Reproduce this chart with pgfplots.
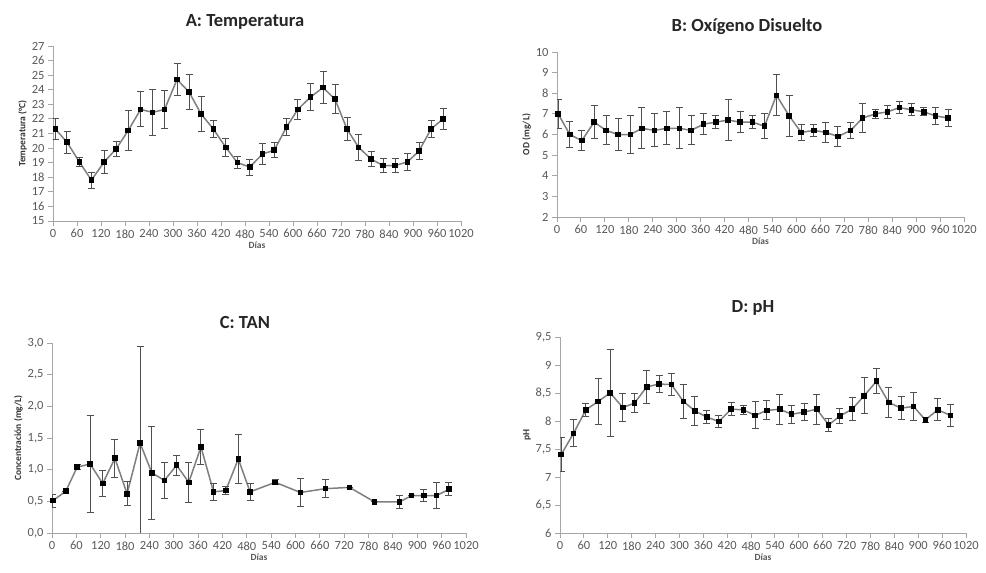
\documentclass[border=0pt]{standalone}
\usepackage{fontspec}
\setmainfont{Carlito}
\usepackage{pgfplots}
\usepackage{pgfplotstable}
\pgfplotsset{compat=1.18}

\definecolor{axgray}{HTML}{A6A6A6}
\definecolor{lblgray}{HTML}{595959}
\definecolor{linegray}{HTML}{7F7F7F}
\definecolor{errgray}{HTML}{505050}

\pgfplotstableread{
x y e
6 21.3 0.7
35 20.4 0.75
66 19.05 0.3
96 17.8 0.55
128 19.05 0.8
158 19.95 0.5
188 21.2 1.4
219 22.65 1.2
249 22.45 1.6
279 22.65 1.3
310 24.7 1.1
340 23.85 1.2
370 22.35 1.2
401 21.3 0.6
432 20.05 0.6
461 19.0 0.4
492 18.7 0.55
524 19.6 0.7
553 19.85 0.5
584 21.45 0.6
612 22.65 0.7
644 23.5 0.9
675 24.15 1.1
705 23.35 1.0
735 21.3 0.8
764 20.05 0.9
795 19.25 0.5
825 18.8 0.5
855 18.8 0.5
886 19.05 0.6
915 19.8 0.6
945 21.3 0.6
975 22.0 0.7
}\tempA

\pgfplotstableread{
x y e
3 7.0 0.7
32 6.0 0.62
62 5.7 0.5
93 6.6 0.8
123 6.2 0.7
153 6.0 0.8
184 6.0 0.9
213 6.3 1.0
244 6.2 0.8
275 6.3 0.8
307 6.3 1.0
336 6.2 0.7
367 6.5 0.5
398 6.6 0.3
429 6.7 1.0
459 6.6 0.5
490 6.6 0.3
520 6.4 0.6
550 7.9 1.0
582 6.9 1.0
612 6.1 0.4
644 6.2 0.3
674 6.1 0.5
704 5.9 0.5
736 6.2 0.4
766 6.8 0.7
798 7.0 0.2
828 7.1 0.3
858 7.3 0.3
888 7.2 0.3
919 7.1 0.2
949 6.9 0.4
980 6.8 0.4
}\tempB

\pgfplotstableread{
x y e
2 0.51 0.10
34 0.66 0.0
62 1.04 0.04
94 1.09 0.77
125 0.78 0.21
155 1.18 0.30
185 0.62 0.19
217 1.42 1.53
246 0.95 0.73
277 0.83 0.29
307 1.07 0.16
337 0.80 0.32
367 1.36 0.28
398 0.65 0.13
428 0.67 0.06
459 1.17 0.39
488 0.65 0.13
550 0.80 0.04
612 0.64 0.22
674 0.70 0.14
733 0.72 0.0
795 0.49 0.0
856 0.49 0.10
886 0.59 0.0
916 0.59 0.10
947 0.59 0.21
978 0.69 0.10
}\tempC

\pgfplotstableread{
x y e
3 7.40 0.30
34 7.78 0.24
65 8.20 0.12
96 8.35 0.41
126 8.50 0.77
158 8.24 0.25
187 8.32 0.17
218 8.61 0.30
249 8.66 0.16
280 8.65 0.20
310 8.35 0.30
339 8.18 0.26
369 8.07 0.12
399 7.99 0.11
430 8.21 0.12
461 8.20 0.08
490 8.10 0.24
520 8.19 0.17
552 8.21 0.27
582 8.12 0.16
613 8.16 0.16
645 8.21 0.27
675 7.93 0.12
703 8.09 0.14
734 8.21 0.21
764 8.45 0.32
795 8.71 0.22
826 8.33 0.26
857 8.23 0.20
888 8.26 0.25
918 8.02 0.04
949 8.20 0.20
981 8.10 0.20
}\tempD

\pgfplotsset{
  panel/.style={
    scale only axis,
    axis lines*=left,
    axis line style={draw=axgray, line width=0.9pt},
    every tick/.style={draw=axgray, line width=0.9pt},
    major tick length=5pt,
    tick align=outside,
    xmin=0, xmax=1020,
    xtick={0,60,...,1020},
    ticklabel style={font=\fontsize{12.5}{13}\selectfont, text=lblgray},
    /pgf/number format/assume math mode=true,
    /pgf/number format/1000 sep={},
    xlabel={Días},
    xlabel style={font=\fontsize{9.5}{10}\selectfont\bfseries, text=lblgray, yshift=3pt},
    ylabel style={font=\fontsize{9.5}{10}\selectfont\bfseries, text=black!80, yshift=-2pt},
  },
  ser/.style={
    color=linegray, line width=1.5pt,
    mark=square*, mark size=2.3pt,
    mark options={fill=black, draw=black, line width=0pt},
    error bars/.cd, y dir=both, y explicit,
    error bar style={draw=errgray, line width=1pt},
    error mark=-,
    error mark options={draw=errgray, line width=1pt, mark size=3.5pt, rotate=90},
  },
}

\begin{document}
\begin{tikzpicture}
\useasboundingbox (0,0) rectangle (986pt,573pt);
\tikzset{ttl/.style={font=\fontsize{18.5}{21}\selectfont\bfseries, text=black!85}}

% Panel A
\begin{axis}[panel, at={(53pt,352pt)}, anchor=south west,
  width=408pt, height=175pt,
  ymin=15, ymax=27, ytick={15,16,...,27},
  ylabel={Temperatura (°C)}]
  \addplot[ser] table[x=x, y=y, y error=e] {\tempA};
\end{axis}
\node[ttl] at (245pt,551pt) {A: Temperatura};

% Panel B
\begin{axis}[panel, at={(557pt,356pt)}, anchor=south west,
  width=407pt, height=165pt,
  ymin=2, ymax=10, ytick={2,3,...,10},
  ylabel={OD (mg/L)}]
  \addplot[ser] table[x=x, y=y, y error=e] {\tempB};
\end{axis}
\node[ttl] at (747pt,546pt) {B: Oxígeno Disuelto};

% Panel C
\begin{axis}[panel, at={(52pt,40pt)}, anchor=south west,
  width=414pt, height=190pt,
  ymin=0, ymax=3, ytick={0,0.5,...,3},
  yticklabel style={/pgf/number format/.cd, fixed, fixed zerofill, precision=1, use comma},
  ylabel={Concentración (mg/L)}]
  \addplot[ser] table[x=x, y=y, y error=e] {\tempC};
\end{axis}
\node[ttl] at (245pt,250pt) {C: TAN};

% Panel D
\begin{axis}[panel, at={(560pt,40pt)}, anchor=south west,
  width=406pt, height=196pt,
  ymin=6, ymax=9.5, ytick={6,6.5,...,9.5},
  yticklabel style={/pgf/number format/.cd, use comma},
  ylabel={pH}]
  \addplot[ser] table[x=x, y=y, y error=e] {\tempD};
\end{axis}
\node[ttl] at (753pt,265pt) {D: pH};
\end{tikzpicture}
\end{document}
